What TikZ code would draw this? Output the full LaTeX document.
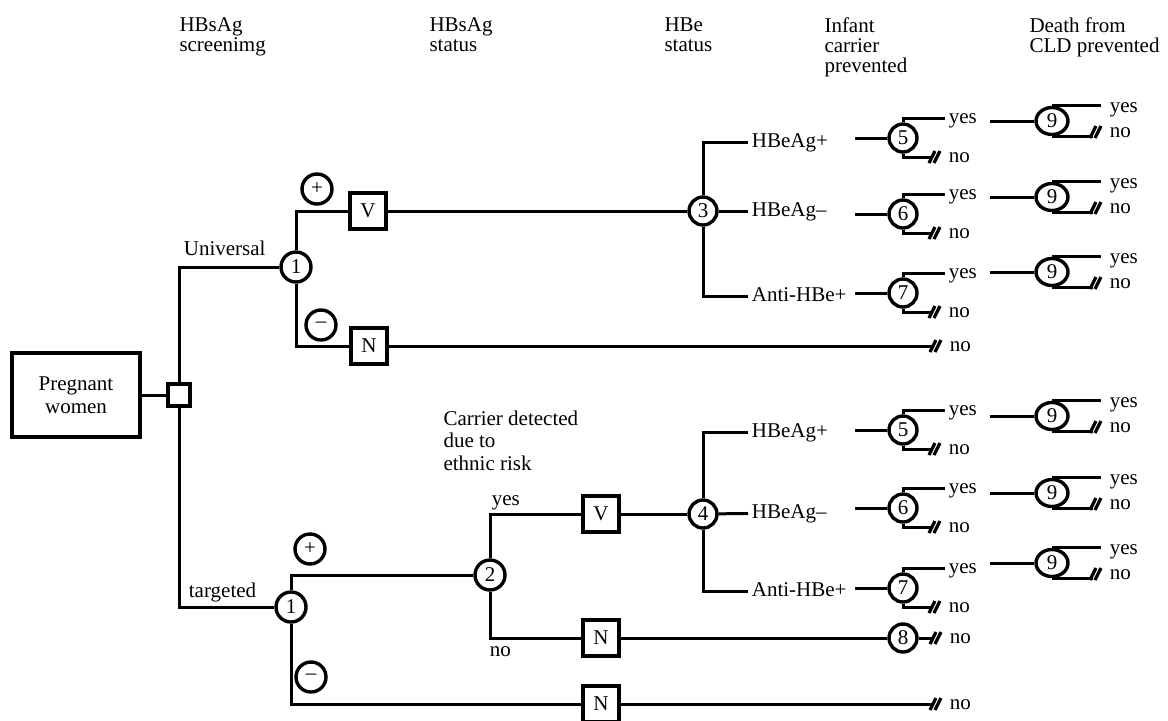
\documentclass[tikz,border=0pt]{standalone}
\usepackage{fontspec}
\setmainfont{Liberation Serif}
\usetikzlibrary{positioning,calc,shapes.geometric}

\tikzset{
  pbox/.style   = {draw, line width=1.7pt, align=center,
                   minimum width=64pt, minimum height=42pt,
                   font=\fontsize{10.5}{11.5}\selectfont},
  dec/.style    = {draw, line width=1.7pt, minimum size=11pt, inner sep=0pt},
  act/.style    = {draw, line width=1.7pt, minimum size=18pt, inner sep=0pt},
  chance/.style = {circle, draw, line width=1.7pt, minimum size=14pt, inner sep=0pt},
  sign/.style   = {circle, draw, line width=1.7pt, minimum size=15pt, inner sep=0pt},
  term/.style   = {ellipse, draw, line width=1.7pt, minimum width=16pt,
                   minimum height=13.5pt, inner sep=0pt},
  lbl/.style    = {anchor=west, inner sep=1.2pt, text height=1.4ex, text depth=.2ex},
  hdr/.style    = {anchor=north west, align=left, inner sep=0pt,
                   font=\fontsize{10.5}{10}\selectfont},
  link/.style   = {line width=1.5pt},
  cut/.style    = {shorten >=6.5pt},
  brkline/.style= {line width=1.6pt}
}
% the // mark just in front of a "no"
\newcommand{\brk}[1]{\draw[brkline] ($(#1.west)+(-16,6)$) -- ++(6,-12) ++(-1,12) -- ++(6,-12);}

\begin{document}
\begin{tikzpicture}[x=0.5pt, y=-0.5pt, font=\fontsize{10.5}{11}\selectfont, every path/.style={link}]
  \useasboundingbox (0,0) rectangle (1168,720);

  % Column headers
  \node[hdr] (h1) at (178,16)  {HBsAg\\screenimg};
  \node[hdr] (h2) at (428,16)  {HBsAg\\status};
  \node[hdr] (h3) at (663,16)  {HBe\\status};
  \node[hdr] (h4) at (823,16)  {Infant\\carrier\\prevented};
  \node[hdr] (h5) at (1028,16) {Death from\\CLD prevented};

  % Root and decision
  \node[pbox] (pw) at (76,395)  {Pregnant\\women};
  \node[dec]  (sq) at (179,395) {};

  % Universal screening
  \node[chance, minimum size=15pt] (c1u) at (296,267) {1};
  \node[sign] (pu)  at (317,189) {+};
  \node[sign] (mu)  at (321,325) {–};
  \node[act]  (vu)  at (368,211) {V};
  \node[act]  (nu)  at (369,346) {N};
  \node[chance] (c3) at (703,211) {3};
  \node[lbl] (ep1) at (748,142) {HBeAg+};
  \node[lbl] (em1) at (748,211) {HBeAg–};
  \node[lbl] (ea1) at (748,296) {Anti-HBe+};
  \node[lbl] (uni) at (180,250) {Universal};
  \node[lbl] (nnu) at (946,346) {no};

  % Targeted screening
  \node[chance, minimum size=15pt] (c1t) at (291,607) {1};
  \node[sign] (pt)  at (310,549) {+};
  \node[sign] (mt)  at (311,677) {–};
  \node[chance, minimum size=15pt] (c2) at (490,575) {2};
  \node[act]  (vl)  at (601,514) {V};
  \node[act]  (nl)  at (601,638) {N};
  \node[act]  (nb)  at (601,704) {N};
  \node[chance] (c4) at (703,514) {4};
  \node[chance] (c8) at (903,638) {8};
  \node[lbl] (ep2) at (748,432) {HBeAg+};
  \node[lbl] (em2) at (748,513) {HBeAg–};
  \node[lbl] (ea2) at (748,591) {Anti-HBe+};
  \node[lbl] (tgt) at (185,592) {targeted};
  \node[lbl] (yes2) at (488,500) {yes};
  \node[lbl] (no2)  at (486,651) {no};
  \node[hdr, font=\fontsize{10.5}{11.3}\selectfont] (car) at (442,409)
       {Carrier detected\\due to\\ethnic risk};
  \node[lbl] (n8)  at (946,638) {no};
  \node[lbl] (nnb) at (946,704) {no};

  % Edges
  \draw (pw) -- (sq);
  \draw (sq) |- (c1u);
  \draw (sq) |- (c1t);

  \draw (c1u) |- (vu);
  \draw (c1u) |- (nu);
  \draw (vu) -- (c3);
  \draw (c3) |- (ep1);
  \draw (c3) -- (em1);
  \draw (c3) |- (ea1);
  \draw[cut] (nu) -- (nnu); \brk{nnu}

  \draw (c1t) |- (c2);
  \draw (c1t) |- (nb);
  \draw (c2) |- (vl);
  \draw (c2) |- (nl);
  \draw (vl) -- (c4);
  \draw (c4) |- (ep2);
  \draw (c4) -- (em2);
  \draw (c4) |- (ea2);
  \draw (nl) -- (c8);
  \draw[cut] (c8) -- (n8); \brk{n8}
  \draw[cut] (nb) -- (nnb); \brk{nnb}

  % Outcome branches: infant carrier, then death from CLD
  \foreach \s/\y/\n/\t in {a/138/5/121, b/214/6/197, c/293/7/272,
                           d/430/5/416, e/508/6/493, f/588/7/563}{
    \node[chance] (o\s) at (903,\y) {\n};
    \coordinate (oi\s) at (855,\y);
    \draw (oi\s) -- (o\s);
    \node[lbl] (oy\s) at (945,\y-20) {yes};
    \node[lbl] (on\s) at (945,\y+19) {no};
    \draw (o\s) |- (oy\s);
    \draw[cut] (o\s) |- (on\s); \brk{on\s}
    \node[term] (t\s) at (1052,\t) {9};
    \coordinate (ti\s) at (990,\t);
    \draw (ti\s) -- (t\s);
    \node[lbl] (ty\s) at (1106,\t-14) {yes};
    \node[lbl] (tn\s) at (1106,\t+11) {no};
    \draw (t\s.north) -- ($(t\s.north -| ty\s.west)+(-5,0)$);
    \draw[cut] (t\s.south) -- (t\s.south -| tn\s.west); \brk{tn\s}
  }

\end{tikzpicture}
\end{document}
